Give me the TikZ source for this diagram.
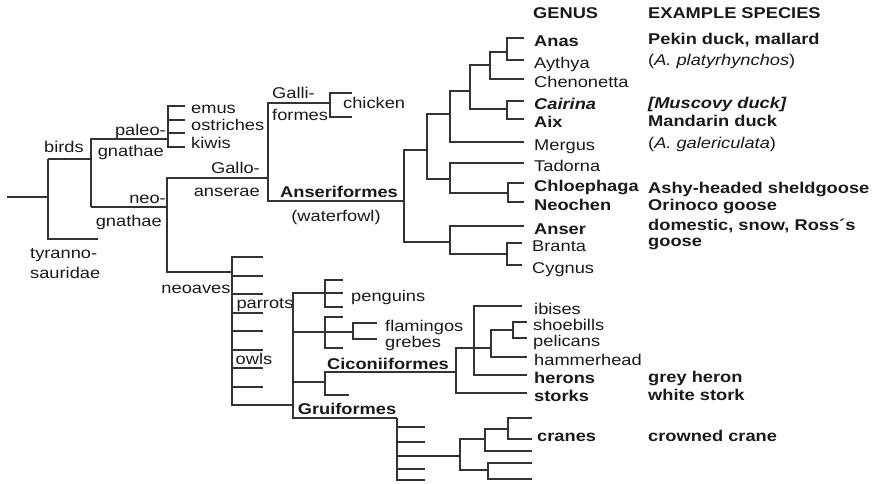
\documentclass[tikz,border=0pt]{standalone}
\usepackage{fontspec}
\setmainfont{Liberation Sans}[FakeStretch=1.17]
\usepackage{xcolor}
\definecolor{edge}{gray}{0.2}
\definecolor{ink}{gray}{0.1}
\newcommand{\treefont}{\fontsize{15.6}{17}\selectfont}
\tikzset{branch/.style={draw=edge,line width=1.35pt},stem/.style={draw=edge,line width=2.8pt},lbl/.style={font=\treefont,text=ink,inner sep=0pt,text height=11pt,text depth=0pt},blbl/.style={lbl,font=\treefont\bfseries},leaf/.style={lbl,anchor=west,inner xsep=10pt,text height=16pt},bleaf/.style={leaf,font=\treefont\bfseries}}

\begin{document}
\begin{tikzpicture}[x=1pt,y=-1pt]
\useasboundingbox (0,0) rectangle (877,483);

% column heads
\node (genus) at (533,13)[blbl,anchor=west]{GENUS};
\node (species) at (648,13)[blbl,anchor=west]{EXAMPLE SPECIES};

% junctions
\coordinate (root) at (7,197);
\coordinate (amn) at (48,197);
\coordinate (aves) at (91,159);
\coordinate (tyr) at (98,239);
\coordinate (paleo) at (168,139);
\coordinate (neog) at (167,207);
\coordinate (galloans) at (268,178);
\coordinate (galli) at (330,103);
\coordinate (anseri) at (404,201);
\coordinate (a1) at (427,150);
\coordinate (a2) at (450,114);
\coordinate (a3) at (470,91);
\coordinate (a4) at (490,65);
\coordinate (a5) at (507,52);
\coordinate (a6) at (507,109);
\coordinate (a7) at (450,179);
\coordinate (a8) at (508,193);
\coordinate (a9) at (450,242);
\coordinate (a10) at (507,254);
\coordinate (neoaves) at (232,272);
\coordinate (core) at (293,405);
\coordinate (peng) at (325,293);
\coordinate (flam) at (325,332);
\coordinate (flgr) at (353,332);
\coordinate (cic) at (325,382);
\coordinate (cicj) at (456,372);
\coordinate (c1) at (474,348);
\coordinate (c2) at (491,348);
\coordinate (c3) at (513,330);
\coordinate (grui) at (397,418);
\coordinate (g1) at (460,456);
\coordinate (g2) at (485,439);
\coordinate (g3) at (508,429);
\coordinate (g4) at (488,470);

% free tips
\foreach \y [count=\i] in {106,120,133,147} \coordinate (e\i) at (185,\y);
\coordinate (ch1) at (352,93);
\coordinate (ch2) at (352,117);
\foreach \y [count=\i] in {257,276,294,313,331,350,368,387} \coordinate (n\i) at (263,\y);
\coordinate (p1) at (343,280);
\coordinate (p3) at (343,307);
\coordinate (f1) at (343,317);
\coordinate (f3) at (343,348);
\coordinate (cx) at (349,395);
\foreach \y [count=\i] in {427,442,469,480} \coordinate (t\i) at (425,\y);
\coordinate (k1) at (532,418);
\coordinate (k2) at (532,439);
\coordinate (k3) at (532,451);
\coordinate (k4) at (532,463);
\coordinate (k5) at (532,479);

% clade labels
\node (birds) at (64,147)[lbl]{birds};
\node (tyranno) at (30,253)[lbl,anchor=west]{tyranno-};
\node (sauridae) at (30,273)[lbl,anchor=west]{sauridae};
\node (paleotop) at (166,130)[lbl,anchor=east]{paleo-};
\node (paleobot) at (164,151)[lbl,anchor=east]{gnathae};
\node (neotop) at (166,198)[lbl,anchor=east]{neo-};
\node (neobot) at (162,221)[lbl,anchor=east]{gnathae};
\node (gallotop) at (260,168)[lbl,anchor=east]{Gallo-};
\node (gallobot) at (260,191)[lbl,anchor=east]{anserae};
\node (gallitop) at (272,93)[lbl,anchor=west]{Galli-};
\node (gallibot) at (272,115)[lbl,anchor=west]{formes};
\node (chicken) at (343,103)[lbl,anchor=west]{chicken};
\node (emus) at (191,108)[lbl,anchor=west]{emus};
\node (ostriches) at (191,125)[lbl,anchor=west]{ostriches};
\node (kiwis) at (191,143)[lbl,anchor=west]{kiwis};
\node (anserif) at (339,192)[blbl]{Anseriformes};
\node (waterfowl) at (336,216)[lbl]{(waterfowl)};
\node (neoavlbl) at (196,288)[lbl]{neoaves};
\node (parrots) at (265,303)[lbl]{parrots};
\node (owls) at (254,359)[lbl]{owls};
\node (ciconif) at (388,364)[blbl]{Ciconiiformes};
\node (gruif) at (347,409)[blbl]{Gruiformes};

% genera
\node (anas) at (524,38)[bleaf]{Anas};
\node (aythya) at (524,60)[leaf]{Aythya};
\node (chenonetta) at (524,79)[leaf]{Chenonetta};
\node (cairina) at (524,101)[bleaf,font=\treefont\bfseries\itshape]{Cairina};
\node (aix) at (524,119)[bleaf]{Aix};
\node (mergus) at (524,142)[leaf]{Mergus};
\node (tadorna) at (524,163)[leaf]{Tadorna};
\node (chloephaga) at (524,183)[bleaf]{Chloephaga};
\node (neochen) at (524,202)[bleaf]{Neochen};
\node (anser) at (524,226)[bleaf]{Anser};
\node (branta) at (522,243)[leaf]{Branta};
\node (cygnus) at (522,265)[leaf]{Cygnus};
\node (penguins) at (343,293)[leaf,inner xsep=8pt]{penguins};
\node (flamingos) at (377,323)[leaf,inner xsep=8pt]{flamingos};
\node (grebes) at (377,339)[leaf,inner xsep=8pt]{grebes};
\node (ibises) at (522,306)[leaf,inner xsep=12pt]{ibises};
\node (shoebills) at (527,322)[leaf,inner xsep=6pt]{shoebills};
\node (pelicans) at (527,338)[leaf,inner xsep=6pt]{pelicans};
\node (hammerhead) at (527,357)[leaf,inner xsep=7pt]{hammerhead};
\node (herons) at (527,375)[bleaf,inner xsep=7pt]{herons};
\node (storks) at (527,393)[bleaf,inner xsep=7pt]{storks};
\node (cranes) at (537,436)[blbl,anchor=west]{cranes};

% example species
\node (pekin) at (648,39)[blbl,anchor=west]{Pekin duck, mallard};
\node (platy) at (648,60)[lbl,anchor=west]{(\textit{A. platyrhynchos})};
\node (muscovy) at (648,103)[blbl,anchor=west,font=\treefont\bfseries\itshape]{[Muscovy duck]};
\node (mandarin) at (648,121)[blbl,anchor=west]{Mandarin duck};
\node (galeric) at (648,143)[lbl,anchor=west]{(\textit{A. galericulata})};
\node (ashy) at (648,188)[blbl,anchor=west]{Ashy-headed sheldgoose};
\node (orinoco) at (648,205)[blbl,anchor=west]{Orinoco goose};
\node (domestic) at (648,225)[blbl,anchor=west]{domestic, snow, Ross´s};
\node (goose) at (648,241)[blbl,anchor=west]{goose};
\node (greyheron) at (648,377)[blbl,anchor=west]{grey heron};
\node (whitestork) at (648,395)[blbl,anchor=west]{white stork};
\node (crowned) at (648,436)[blbl,anchor=west]{crowned crane};

% stem of the tree
\draw[stem] (root) -- (amn);
\draw[branch] (amn) |- (tyr) (amn) -- (amn |- aves);
\draw[stem] (amn |- aves) -- (aves);
\draw[branch] (aves) |- (paleo) (aves) -- (aves |- neog);
\draw[stem] (aves |- neog) -- (neog);
\foreach \i in {1,...,4} \draw[branch] (paleo) |- (e\i);
\draw[branch] (neog) |- (galloans) (neog) |- (neoaves);
\draw[branch] (galloans) |- (galli) (galloans) |- (anseri);
\draw[branch] (galli) |- (ch1) (galli) |- (ch2);

% waterfowl
\draw[branch] (anseri) |- (a1) (anseri) |- (a9);
\draw[branch] (a1) |- (a2) (a1) |- (a7);
\draw[branch] (a2) |- (a3) (a2) |- (mergus.west);
\draw[branch] (a3) |- (a4) (a3) |- (a6);
\draw[branch] (a4) |- (a5) (a4) |- (chenonetta.west);
\draw[branch] (a5) |- (anas.west) (a5) |- (aythya.west);
\draw[branch] (a6) |- (cairina.west) (a6) |- (aix.west);
\draw[branch] (a7) |- (tadorna.west) (a7) |- (a8);
\draw[branch] (a8) |- (chloephaga.west) (a8) |- (neochen.west);
\draw[branch] (a9) |- (anser.west) (a9) |- (a10);
\draw[branch] (a10) |- (branta.west) (a10) |- (cygnus.west);

% neoaves
\foreach \i in {1,...,8} \draw[branch] (neoaves) |- (n\i);
\draw[branch] (neoaves) |- (core);
\draw[branch] (core) |- (peng) (core) |- (flam) (core) |- (cic) (core) |- (grui);
\draw[branch] (peng) |- (p1) (peng) -- (penguins.west) (peng) |- (p3);
\draw[branch] (flam) |- (f1) (flam) |- (f3) (flam) -- (flgr);
\draw[branch] (flgr) |- (flamingos.west) (flgr) |- (grebes.west);
\draw[branch] (cic) |- (cicj) (cic) |- (cx);
\draw[branch] (cicj) |- (c1) (cicj) |- (storks.west);
\draw[branch] (c1) |- (ibises.west) (c1) |- (herons.west) (c1) -- (c2);
\draw[branch] (c2) |- (c3) (c2) |- (hammerhead.west);
\draw[branch] (c3) |- (shoebills.west) (c3) |- (pelicans.west);
\foreach \i in {1,...,4} \draw[branch] (grui) |- (t\i);
\draw[branch] (grui) |- (g1);
\draw[branch] (g1) |- (g2) (g1) |- (g4);
\draw[branch] (g2) |- (g3) (g2) |- (k3);
\draw[branch] (g3) |- (k1) (g3) |- (k2);
\draw[branch] (g4) |- (k4) (g4) |- (k5);

\end{tikzpicture}
\end{document}
